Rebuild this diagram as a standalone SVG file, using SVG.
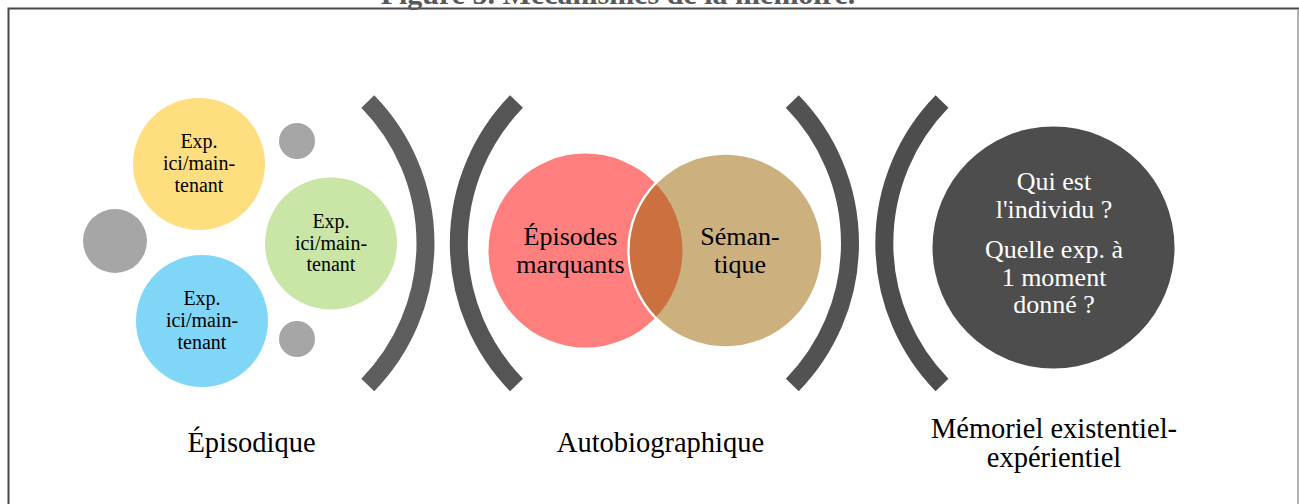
<svg xmlns="http://www.w3.org/2000/svg" width="1299" height="504" viewBox="0 0 1299 504">
<style>
text{font-family:"Liberation Serif","Times New Roman",serif;text-anchor:middle}
.small{font-size:20px;fill:#000}
.venn{font-size:26px;fill:#000}
.dark{font-size:26px;fill:#fff}
.label{font-size:28.5px;fill:#000}
.brk{fill:none;stroke-width:18;stroke-linecap:butt}
</style>
<defs>
<clipPath id="tanClip"><circle cx="725.5" cy="250.5" r="95.8"/></clipPath>
</defs>
<rect width="1299" height="504" fill="#fff"/>
<g id="frame">
<line x1="8.5" y1="9" x2="8.5" y2="504" stroke="#4a4a4a" stroke-width="2"/>
<line x1="7.5" y1="8.5" x2="1299" y2="8.5" stroke="#4a4a4a" stroke-width="2"/>
<line x1="1298" y1="9" x2="1298" y2="504" stroke="#9a9a9a" stroke-width="1.5"/>
</g>
<text id="title" x="618" y="4" style="font-size:30px;font-weight:bold;fill:#595959">Figure 5. Mécanismes de la mémoire.</text>
<g id="episodique">
<g id="grey-large"><circle cx="115" cy="241" r="32" fill="#a6a6a6"/></g>
<g id="grey-top"><circle cx="297" cy="141" r="18" fill="#a6a6a6"/></g>
<g id="grey-bottom"><circle cx="297" cy="339" r="18" fill="#a6a6a6"/></g>
<g id="exp-yellow"><circle cx="199" cy="164" r="66" fill="#ffde80"/>
<text class="small" x="199" y="148">Exp.</text><text class="small" x="199" y="170">ici/main-</text><text class="small" x="199" y="191.7">tenant</text></g>
<g id="exp-green"><circle cx="331" cy="243.5" r="66" fill="#c9e6a6"/>
<text class="small" x="331" y="227.5">Exp.</text><text class="small" x="331" y="249.5">ici/main-</text><text class="small" x="331" y="271.2">tenant</text></g>
<g id="exp-blue"><circle cx="202" cy="321" r="66" fill="#7fd6f7"/>
<text class="small" x="202" y="305">Exp.</text><text class="small" x="202" y="327">ici/main-</text><text class="small" x="202" y="348.7">tenant</text></g>
</g>
<g id="brackets">
<path class="brk" stroke="#5e5e5e" d="M367.8 101.5 A203 203 0 0 1 367.8 385"/>
<path class="brk" stroke="#555555" d="M516.5 101.5 A203 203 0 0 0 516.5 385"/>
<path class="brk" stroke="#525252" d="M792.3 101.5 A203 203 0 0 1 792.3 385"/>
<path class="brk" stroke="#4d4d4d" d="M942 101.5 A203 203 0 0 0 942 385"/>
</g>
<g id="autobiographique">
<g id="episodes-marquants"><circle cx="585.5" cy="250.5" r="97" fill="#ff7f7f"/></g>
<g id="semantique"><circle cx="725.5" cy="250.5" r="97" fill="#ccb17f" stroke="#fff" stroke-width="2.5"/></g>
<circle cx="585.5" cy="250.5" r="97" fill="#cc7040" clip-path="url(#tanClip)"/>
<text class="venn" x="570.5" y="245">Épisodes</text>
<text class="venn" x="570.5" y="272.7">marquants</text>
<text class="venn" x="740" y="245">Séman-</text>
<text class="venn" x="740" y="272.7">tique</text>
</g>
<g id="memoriel">
<circle cx="1053.5" cy="247.5" r="121" fill="#4d4d4d"/>
<text class="dark" x="1054" y="190">Qui est</text>
<text class="dark" x="1054" y="218">l'individu ?</text>
<text class="dark" x="1054" y="258">Quelle exp. à</text>
<text class="dark" x="1054" y="285.5">1 moment</text>
<text class="dark" x="1054" y="313">donné ?</text>
</g>
<g id="labels">
<text class="label" x="251.5" y="452">Épisodique</text>
<text class="label" x="660.5" y="452">Autobiographique</text>
<text class="label" x="1054" y="438">Mémoriel existentiel-</text>
<text class="label" x="1054" y="467">expérientiel</text>
</g>
</svg>
